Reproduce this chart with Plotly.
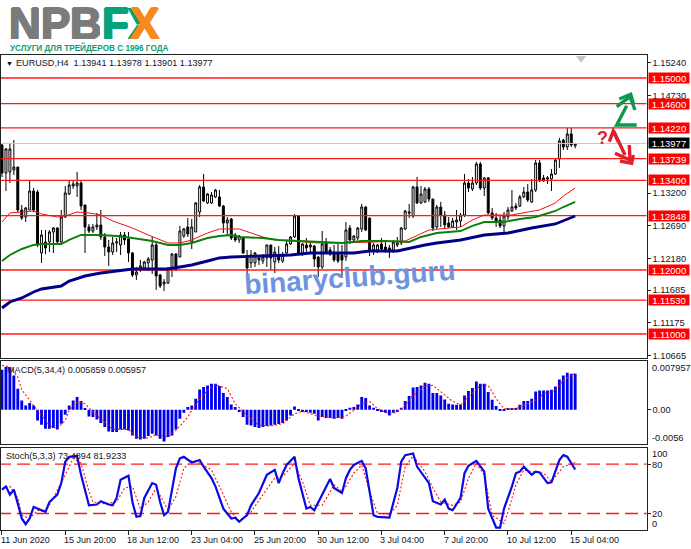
import plotly.graph_objects as go

W, H = 691, 549

# ---- price data, in points above 1.10000 (1 point = 0.00001) ----
open_pts = [3953,3516,3531,3563,3609,2938,2828,2938,3234,3219,2266,2438,2438,2594,2656,2438,2828,3188,3313,3313,3359,3016,2672,2609,2672,2703,2516,2359,2281,2422,2391,2547,2484,2266,1922,2000,2031,2109,2156,2391,1922,1781,1797,2031,2250,2203,2531,2672,2438,2594,2906,3297,3047,3047,3141,3141,3000,2734,2797,2547,2469,2500,2188,2109,2109,2188,2141,2188,2391,2125,2234,2141,2266,2406,2516,2844,2266,2391,2359,2375,2203,2047,2438,2313,2281,2250,2234,2203,2656,2469,2500,2641,2984,2813,2313,2313,2406,2359,2344,2297,2391,2422,2641,2906,2844,3297,3047,3063,3266,3109,2672,2984,2859,2734,2672,2750,2766,2859,3359,3266,3359,3656,3281,3438,2891,2813,2781,2688,2828,2922,3000,3000,3141,3219,3063,3250,3672,3438,3422,3422,3500,3734,4031,3922,4125,3941]
high_pts = [3984,3906,3984,4031,3609,3016,2984,3406,3281,3250,2625,2625,2625,2672,2672,2938,3313,3406,3406,3531,3406,3016,2719,2719,2891,2938,2578,2469,2516,2500,2594,2594,2594,2281,2047,2156,2141,2203,2516,2422,1938,1859,2047,2266,2266,2688,2656,2813,2797,3063,3328,3500,3203,3219,3266,3250,3016,2828,2813,2578,2547,2516,2313,2313,2281,2219,2250,2391,2391,2359,2375,2281,2453,2531,2875,2859,2422,2500,2438,2391,2219,2609,2500,2359,2391,2406,2391,2750,2703,2547,2672,3031,3000,2813,2422,2406,2500,2438,2391,2469,2516,2672,2938,3031,3313,3453,3313,3297,3297,3109,3016,3063,2922,2828,2813,2938,2891,3500,3422,3453,3688,3688,3453,3453,2969,2891,2859,2906,2984,3250,3047,3172,3297,3344,3422,3719,3719,3484,3469,3578,3734,4063,4047,4219,4219,3978]
low_pts = [3453,3234,3359,3484,2906,2781,2750,2938,2906,2359,2109,2250,2281,2266,2422,2422,2813,3172,3266,3141,2938,2266,2578,2578,2625,2469,2219,2063,2234,2281,2234,2391,2125,1891,1844,1969,2000,1984,1938,1688,1719,1672,1781,1891,1984,2203,2500,2516,2328,2594,2828,3063,3031,3031,3125,2984,2578,2531,2469,2438,2422,2250,1891,2031,2047,2078,2094,2047,2000,1953,2109,2109,2250,2391,2500,2250,2219,2281,2281,2047,1891,2016,2266,2219,2125,2109,1875,2141,2406,2453,2469,2594,2609,2219,2234,2266,2281,2266,2188,2266,2359,2391,2625,2813,2813,3031,3031,3047,3063,2609,2641,2672,2656,2656,2656,2625,2672,2828,3219,3234,3328,3250,3156,2875,2781,2672,2656,2594,2781,2906,2938,2984,3125,3063,3047,3219,3375,3375,3344,3234,3484,3594,3875,3875,3922,3901]
close_pts = [3516,3891,3891,3609,2938,2813,2969,3234,2938,2391,2547,2344,2594,2656,2438,2828,3203,3328,3344,3359,3000,2672,2609,2672,2703,2516,2359,2281,2422,2438,2547,2469,2266,1922,1969,2063,2125,2172,2391,1906,1750,1813,2031,2250,2000,2609,2641,2563,2672,3047,3297,3078,3188,3172,3250,3000,2734,2781,2500,2469,2531,2266,2031,2234,2266,2156,2203,2391,2188,2281,2156,2234,2406,2516,2844,2266,2406,2344,2391,2172,2047,2406,2281,2250,2156,2141,2156,2625,2469,2531,2656,2984,2625,2313,2391,2391,2328,2297,2281,2438,2422,2656,2922,2891,3297,3047,3188,3266,3109,2656,2984,2859,2703,2672,2766,2781,2859,3359,3281,3359,3656,3281,3438,2891,2813,2766,2688,2844,2938,2984,2969,3141,3219,3094,3250,3672,3391,3391,3438,3500,3719,4016,3922,4125,3953,3977]

fast_ma_bars = [0,2,5,8,10,14,16,19,22,25,28,33,37,42,45,48,52,55,58,60,66,69,73,80,86,93,102,108,110,113,116,118,119,122,124,129,133,136,140,142,145]
fast_ma_pts = [2750,2891,2906,2922,2875,2828,2844,2906,2891,2859,2766,2656,2547,2422,2422,2469,2578,2641,2641,2641,2516,2469,2453,2422,2422,2438,2453,2625,2641,2656,2672,2750,2781,2859,2859,2859,2906,2938,3047,3156,3281]
mid_ma_bars = [0,2,5,8,10,15,17,20,25,29,33,38,42,45,48,52,55,58,60,66,70,76,83,86,91,97,103,106,110,116,119,122,127,131,135,140,142,145]
mid_ma_pts = [2141,2234,2328,2391,2406,2406,2469,2547,2547,2531,2500,2453,2391,2391,2422,2500,2531,2547,2516,2500,2469,2453,2438,2422,2453,2453,2438,2516,2578,2609,2688,2750,2750,2797,2828,2922,2984,3063]
slow_ma_bars = [0,2,5,8,10,15,17,21,25,29,33,38,42,45,48,52,55,58,66,73,78,83,89,93,100,107,110,116,122,128,134,140,145]
slow_ma_pts = [1406,1500,1563,1656,1703,1750,1828,1906,1953,1984,2016,2016,2016,2047,2078,2141,2188,2203,2219,2234,2266,2266,2266,2297,2297,2391,2422,2469,2547,2578,2656,2719,2844]

level_prices = [1.15, 1.146, 1.1422, 1.13739, 1.134, 1.12848, 1.12, 1.1153, 1.11]
level_labels = ["1.15000","1.14600","1.14220","1.13739","1.13400","1.12848","1.12000","1.11530","1.11000"]
last_price = 1.13977
last_label = "1.13977"
price_ticks = [1.1524, 1.1473, 1.132, 1.1269, 1.1218, 1.11685, 1.11175, 1.10665]
price_tick_labels = ["1.15240","1.14730","1.13200","1.12690","1.12180","1.11685","1.11175","1.10665"]

# ---- MACD, in millionths ----
macd_micro = [6534,6970,6970,5608,3430,1525,708,1089,708,-1742,-2450,-3104,-3104,-2995,-3213,-2287,-817,708,1525,2069,1416,163,-1089,-1198,-1579,-2178,-2831,-3539,-3648,-3648,-3213,-3213,-3376,-4193,-4737,-4846,-4737,-4302,-3920,-4193,-4737,-5173,-4465,-4193,-3213,-1470,-490,436,708,1797,3321,3703,3975,4247,4247,3866,2723,2069,871,436,-381,-1198,-2450,-2559,-2831,-2995,-2831,-2668,-2559,-2450,-2341,-2178,-1742,-926,545,-109,-381,-381,-490,-653,-1742,-1198,-1361,-1361,-1470,-1361,-1470,-218,
              327,436,871,2069,1906,708,327,-109,-381,-490,-926,-490,-381,327,1416,2232,3648,3703,3975,4410,4247,2723,2723,2341,1688,980,871,817,871,2341,3049,3539,4628,4247,4247,2886,1634,599,-109,-109,163,163,272,817,1416,1416,1797,2995,3158,3158,3158,3267,3812,4955,5608,6044,5880,5859]
signal_bars = [0,2,4,5,8,10,12,14,16,17,19,21,23,26,28,32,34,37,39,42,44,47,49,52,54,57,59,62,65,68,71,74,76,80,84,87,89,91,93,95,98,100,102,104,107,109,111,114,116,118,121,123,125,127,130,132,135,137,140,142,145]
signal_micro = [7242,6970,5336,3267,708,-926,-2559,-3104,-1742,-109,1252,980,-381,-2015,-3213,-3213,-4465,-4628,-4084,-4465,-3376,-1198,980,3158,4084,3430,980,-926,-2559,-2668,-2287,-653,-272,-1035,-1361,-1035,-109,980,1361,163,-653,-381,708,2341,3866,3975,2886,1361,817,2069,3975,3975,1797,163,163,708,1525,2614,3158,4792,5957]
macd_tick_text = ["0.007957","0.00","-0.0056"]

# ---- Stochastic ----
stoch_bars = [0,1,2,3,4,5,6,7,8,9,11,12,14,15,16,17,19,20,21,22,24,25,27,28,29,30,32,33,34,35,36,38,39,40,41,42,44,45,46,48,50,51,53,54,56,58,59,60,62,63,65,67,69,70,71,72,74,75,77,78,79,81,83,84,86,87,88,89,91,92,94,95,98,100,101,102,104,105,107,108,109,111,112,113,114,116,117,118,120,122,123,125,126,127,129,130,131,132,134,135,136,138,139,141,142,143,145]
stoch_main = [49,53,43,49,32,14,7,14,28,26,22,34,43,57,83,89,90,67,47,30,31,35,31,30,39,61,66,34,16,17,39,57,55,34,18,22,75,87,89,82,85,77,63,53,26,14,15,10,18,30,45,67,73,57,69,79,89,63,26,28,24,43,62,51,45,63,73,79,84,75,18,16,15,51,83,91,93,77,63,57,35,31,37,26,24,39,69,78,84,71,26,3,3,26,53,69,71,77,67,71,70,57,58,85,91,89,73.4894]
stoch_sig_bars = [0,2,4,5,7,9,11,13,16,18,20,22,23,26,29,31,33,35,37,39,42,44,46,48,50,53,55,58,60,63,66,69,71,74,76,78,81,84,86,87,89,91,93,95,98,100,102,104,107,109,111,114,116,118,120,122,124,127,128,130,132,134,137,139,142,145]
stoch_signal = [49,53,39,18,14,24,22,39,67,87,81,47,34,32,34,51,53,26,34,51,24,41,75,84,81,73,53,22,11,22,43,63,65,81,59,30,30,55,47,53,69,79,47,20,19,30,77,90,71,51,34,30,34,63,81,67,18,8,22,55,73,71,69,59,77,81.9233]
stoch_levels = [80, 20]

# ---- time axis ----
time_tick_bars = [0,16,32,48,64,80,96,112,128,144]
time_tick_labels = ["11 Jun 2020","15 Jun 20:00","18 Jun 12:00","23 Jun 04:00","25 Jun 20:00","30 Jun 12:00","3 Jul 04:00","7 Jul 20:00","10 Jul 12:00","15 Jul 04:00"]

# ---- texts ----
header_text = "EURUSD,H4  1.13941 1.13978 1.13901 1.13977"
macd_text = "MACD(5,34,4) 0.005859 0.005957"
stoch_text = "Stoch(5,3,3) 73.4894 81.9233"
watermark = "binaryclub.guru"
tagline = "УСЛУГИ ДЛЯ ТРЕЙДЕРОВ С 1996 ГОДА"

bars = list(range(len(close_pts)))
to_price = lambda pts: [1.1 + v / 1e5 for v in pts]
to_macd = lambda vals: [v / 1e6 for v in vals]

FONT = "Liberation Sans"
TXT = "#14141e"


def px(x):
    return x / W


def py(y):
    return 1 - y / H


fig = go.Figure()

# level lines
for p in level_prices:
    fig.add_trace(go.Scatter(x=[-1, 170], y=[p, p], mode="lines", line=dict(color="#ff1a1a", width=1.3),
                             xaxis="x", yaxis="y", hoverinfo="skip"))
fig.add_trace(go.Scatter(x=[-1, 170], y=[last_price, last_price], mode="lines", line=dict(color="#c8c8c8", width=1),
                         xaxis="x", yaxis="y", hoverinfo="skip"))

fig.add_trace(go.Candlestick(x=bars, open=to_price(open_pts), high=to_price(high_pts), low=to_price(low_pts),
                             close=to_price(close_pts), whiskerwidth=0,
                             increasing=dict(line=dict(color="#000", width=1), fillcolor="#fff"),
                             decreasing=dict(line=dict(color="#000", width=1), fillcolor="#000"),
                             xaxis="x", yaxis="y"))
fig.add_trace(go.Scatter(x=fast_ma_bars, y=to_price(fast_ma_pts), mode="lines", line=dict(color="#f01010", width=1),
                         xaxis="x", yaxis="y"))
fig.add_trace(go.Scatter(x=mid_ma_bars, y=to_price(mid_ma_pts), mode="lines", line=dict(color="#0a800a", width=1.9),
                         xaxis="x", yaxis="y"))
fig.add_trace(go.Scatter(x=slow_ma_bars, y=to_price(slow_ma_pts), mode="lines", line=dict(color="#000088", width=2.9),
                         xaxis="x", yaxis="y"))
# chart-shift marker
fig.add_trace(go.Scatter(x=[146.5], y=[1.1531], mode="markers", marker=dict(symbol="triangle-down", size=9, color="#c4c4c4"),
                         xaxis="x", yaxis="y", hoverinfo="skip"))

# MACD
fig.add_trace(go.Bar(x=bars, y=to_macd(macd_micro), marker=dict(color="#0000f0", line=dict(width=0)), width=0.72,
                     xaxis="x2", yaxis="y2"))
fig.add_trace(go.Scatter(x=signal_bars, y=to_macd(signal_micro), mode="lines", line=dict(color="#ff1010", width=1.1, dash="2px,2px"),
                         xaxis="x2", yaxis="y2"))

# Stochastic
for lv in stoch_levels:
    fig.add_trace(go.Scatter(x=[-1, 170], y=[lv, lv], mode="lines", line=dict(color="#ff1a1a", width=1.4, dash="13px,6px"),
                             xaxis="x3", yaxis="y3", hoverinfo="skip"))
fig.add_trace(go.Scatter(x=stoch_sig_bars, y=stoch_signal, mode="lines", line=dict(color="#ff1010", width=1.1, dash="2px,2px"),
                         xaxis="x3", yaxis="y3"))
fig.add_trace(go.Scatter(x=stoch_bars, y=stoch_main, mode="lines", line=dict(color="#0a0ae6", width=2.2),
                         xaxis="x3", yaxis="y3"))

ann = []


def label(text, x, y, size=9.3, color=TXT, anchor="left", **kw):
    ann.append(dict(text=text, x=px(x), y=py(y), xref="paper", yref="paper", xanchor=anchor, yanchor="middle",
                    showarrow=False, font=dict(family=kw.pop("family", FONT), size=size, color=color), **kw))


# price boxes
for p, t in zip(level_prices, level_labels):
    ann.append(dict(text=t, x=px(648), y=p, xref="paper", yref="y", xanchor="left", yanchor="middle", showarrow=False,
                    bgcolor="#ff0000", width=40, height=10, borderpad=0, align="center",
                    font=dict(family=FONT, size=9.5, color="#ffffff")))
ann.append(dict(text=last_label, x=px(648), y=last_price, xref="paper", yref="y", xanchor="left", yanchor="middle", showarrow=False,
                bgcolor="#000000", width=40, height=10, borderpad=0, align="center",
                font=dict(family=FONT, size=9.5, color="#ffffff")))

# header & indicator captions
label("▼", 4, 63.5, size=7, color="#000")
label(header_text, 14, 63.5, size=9.1)
label(macd_text, 5, 369.5, size=9.1)
label(stoch_text, 3.5, 455.5, size=9.1)

# labels MT4 keeps inside the sub-window
label(macd_tick_text[0], 650, 367.7)
label(macd_tick_text[2], 649.5, 437.7)
label("100", 650, 453.7)
label("80", 650, 464.5)
label("20", 650, 514)
label("0", 650, 524)

# time labels
for b, t in zip(time_tick_bars, time_tick_labels):
    ann.append(dict(text=t, x=b, y=py(539.5), xref="x3", yref="paper", xanchor="left", yanchor="middle", xshift=-3,
                    showarrow=False, font=dict(family=FONT, size=9, color=TXT)))

# logo
LOGO_GREY = "#7b7b7b"
LOGO_TEAL = "#06a27b"
LOGO_ORANGE = "#f68a1e"
for ch, x, col in [("N", 6.5, LOGO_GREY), ("P", 38.5, LOGO_GREY), ("B", 67.5, LOGO_GREY), ("F", 100.5, LOGO_TEAL), ("X", 127.5, LOGO_ORANGE)]:
    ann.append(dict(text="<b>%s</b>" % ch, x=px(x), y=py(23.5), xref="paper", yref="paper", xanchor="left", yanchor="middle",
                    showarrow=False, height=32, width=30, align="left",
                    font=dict(family=FONT, size=44, color=col,
                              shadow="1px 0 0 {c}, -1px 0 0 {c}, 0 1px 0 {c}, 0 -1px 0 {c}".format(c=col))))
label("<b>%s</b>" % tagline, 8, 47.8, size=8.2, color="#0a9e78")

# watermark
ann.append(dict(text="<b>%s</b>" % watermark, x=px(350), y=py(277), xref="paper", yref="paper", xanchor="center", yanchor="middle",
                showarrow=False, textangle=-4, font=dict(family=FONT, size=28, color="#6f93dc")))

# question mark beside the arrows
label("<b>?</b>", 602.7, 138, size=18, color="#e2202c", anchor="center")

# trade direction arrows
GREEN = "#0b9a4c"
REDA = "#e2202c"


def poly(points, color, width=3.4, fill=None):
    d = "M " + " L ".join("%.5f,%.5f" % (px(a), py(b)) for a, b in points)
    if fill:
        return dict(type="path", path=d + " Z", xref="paper", yref="paper", line=dict(width=0), fillcolor=fill, layer="above")
    return dict(type="path", path=d, xref="paper", yref="paper", line=dict(color=color, width=width), layer="above")


shapes = [
    poly([(636.7, 125), (616.7, 125), (626.7, 105.7)], GREEN),
    poly([(616.7, 106.7), (630, 96.7), (635, 110)], GREEN),
    poly([(619.3, 99), (630.7, 94.3), (633.3, 103.3)], GREEN),
    poly([(609.3, 141.7), (613.3, 131), (618.3, 141.7)], REDA),
    poly([(614, 131.7), (625, 155)], REDA),
    poly([(615, 153.3), (630, 160), (629.3, 145)], REDA),
    poly([(620, 161), (631.7, 163.3), (633.3, 155)], REDA),
    # left arms of the logo's X are teal
    poly([(127.5, 8), (138, 8), (144, 21), (137, 25)], None, fill=LOGO_TEAL),
    poly([(127.5, 39), (137, 25), (143, 29), (137.5, 39)], None, fill=LOGO_TEAL),
]

XR = [-0.25, 163.04]
x_dom = [px(1), px(646.5)]
common_x = dict(range=XR, domain=x_dom, showgrid=False, zeroline=False, showline=True, mirror=True, linecolor="#222", linewidth=1.2,
                showticklabels=False, ticks="", automargin=False)
common_y = dict(side="right", showgrid=False, zeroline=False, showline=True, mirror=True, linecolor="#222", linewidth=1.2,
                tickfont=dict(family=FONT, size=9.3, color=TXT), ticks="outside", ticklen=3, tickcolor="#222", automargin=False)

fig.update_layout(
    template="none",
    width=W, height=H, margin=dict(l=0, r=0, t=0, b=0, pad=0), paper_bgcolor="#fff", plot_bgcolor="#fff",
    showlegend=False, annotations=ann, shapes=shapes, barmode="overlay", hovermode=False,
    xaxis=dict(common_x, anchor="y", rangeslider=dict(visible=False)),
    xaxis2=dict(common_x, anchor="y2"),
    xaxis3=dict(common_x, anchor="y3", ticks="outside", ticklen=4, tickcolor="#222", tickvals=time_tick_bars, ticktext=[""] * len(time_tick_bars)),
    yaxis=dict(common_y, domain=[py(358), py(55)], range=[1.10625, 1.15359], anchor="x",
               tickvals=price_ticks, ticktext=price_tick_labels),
    yaxis2=dict(common_y, domain=[py(444), py(361)], range=[-0.0056, 0.007957], anchor="x2",
                tickvals=[0], ticktext=[macd_tick_text[1]]),
    yaxis3=dict(common_y, domain=[py(530), py(447.7)], range=[0, 100], anchor="x3",
                tickvals=[80, 20], ticktext=["", ""]),
)

fig.write_html("out.html", config=dict(displayModeBar=False),
               post_script="document.body.style.margin='0';document.body.style.overflow='hidden';")
